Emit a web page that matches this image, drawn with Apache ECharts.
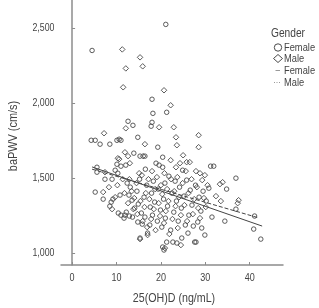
<!DOCTYPE html>
<html>
<head>
    <meta charset="UTF-8">
    <title>baPWV vs 25(OH)D</title>
    <script src="https://cdn.jsdelivr.net/npm/echarts@6/dist/echarts.min.js"></script>
    <style>
        body { margin: 0; background: #fff; }
    </style>
</head>
<body>
    <div id="chart" style="width:319px; height:308px;"></div>

    <script>
        // tick labels
        var xTicks = [0, 10, 20, 30, 40];
        var yTicks = [1000, 1500, 2000, 2500];
        var legendItems = ['Female', 'Male', 'Female', 'Male'];

        // scatter points [25(OH)D, baPWV]
        var femalePts = [
            [4.5,2353],[18.0,2027],[18.2,1933],[21.1,2527],[21.3,1940],
            [4.3,1753],[5.2,1753],[6.3,1727],[8.5,1727],[10.1,1753],[11.0,1753],[12.6,1880],[13.7,1853],
            [14.8,1773],[17.8,1847],[18.0,1873],[19.3,1707],[13.9,1667],[15.3,1647],[16.4,1647],[20.4,1640],
            [31.2,1580],[31.9,1580],[36.9,1500],[34.8,1427],[30.8,1433],[36.9,1293],[41.1,1247],[34.4,1213],
            [31.5,1240],[40.9,1160],[42.5,1093],[29.9,1120],[27.9,1073],[20.7,1020],
            [5.6,1573],[5.6,1540],[5.2,1407],[7.0,1360],[8.5,1313],[8.8,1340],[9.2,1360],[10.8,1387],
            [9.7,1553],[10.1,1593],[11.0,1580],[12.1,1587],[10.3,1533],[7.4,1493],[9.0,1493],[11.9,1253],[10.6,1760],
            [12.4,1467],[13.1,1440],[12.8,1387],[13.5,1353],[14.1,1300],[12.2,1273],[11.0,1253],[10.4,1267],
            [12.9,1247],[13.6,1240],[11.7,1233],[14.6,1413],[15.2,1493],[14.9,1327],[15.6,1267],[14.8,1207],
            [15.3,1100],[16.4,1240],[15.8,1193],[16.2,1373],[16.8,1453],[16.5,1560],[17.0,1133],
            [17.5,1187],[17.6,1307],[17.9,1400],[18.3,1480],[18.1,1253],[18.6,1340],[18.9,1600],[19.2,1213],
            [19.4,1427],[19.6,1587],[19.9,1287],[20.2,1173],[20.4,1573],[20.4,1040],[20.6,1360],[20.9,1467],
            [21.3,1073],[21.0,1233],[21.5,1313],[21.8,1513],
            [22.2,1153],[22.5,1400],[22.7,1073],[22.9,1273],[23.2,1480],[23.6,1067],[23.5,1347],[23.9,1213],
            [24.2,1440],[24.7,1100],[24.6,1300],[24.9,1553],[25.2,1380],[25.5,1187],[25.8,1487],[26.1,1133],
            [26.3,1253],[26.6,1420],
            [27.0,1320],[27.3,1180],[27.6,1073],[27.8,1453],[28.3,1207],[28.6,1373],[29.2,1167],[29.0,1280],
            [29.5,1413],[30.2,1347]
        ];
        var malePts = [
            [11.3,2360],[12.1,2233],[11.5,2107],[15.3,2307],[15.9,2247],[7.2,1800],[12.1,1833],[16.4,1727],
            [19.6,1840],[11.9,1673],[10.3,1633],[20.7,2087],[22.2,1987],[22.9,1840],[23.4,1773],[28.5,1787],
            [23.6,1720],[28.5,1707],
            [28.8,1533],[33.3,1460],[33.9,1473],[32.4,1380],[33.5,1347],[37.5,1353],[37.3,1333],[20.9,1033],[24.5,1053],
            [8.3,1440],[9.7,1373],[15.3,1093],[17.0,1120],
            [7.4,1540],[7.0,1407],[10.6,1627],[12.6,1647],[11.4,1493],[10.2,1453],[11.8,1400],[9.0,1293],
            [12.6,1333],[13.0,1600],[12.9,1493],[13.4,1413],[13.8,1293],[14.0,1367],[14.5,1467],[14.7,1260],
            [15.1,1533],[15.4,1347],[15.7,1520],[15.9,1213],[16.0,1647],[16.3,1307],[16.6,1400],[16.9,1173],[17.2,1493],
            [17.4,1360],[17.8,1227],[18.0,1547],[18.4,1293],[18.7,1427],[18.8,1153],[19.1,1507],[19.5,1333],
            [19.8,1247],[20.0,1453],[20.3,1393],[20.7,1200],[20.8,1533],[21.1,1280],[21.4,1427],[21.7,1347],[21.9,1127],
            [22.2,1620],[22.3,1493],[22.6,1227],[23.0,1413],[23.3,1313],[23.4,1573],[23.7,1507],[23.8,1167],
            [24.1,1373],[24.3,1600],[24.5,1253],[24.9,1467],[25.0,1653],[25.3,1320],[25.6,1547],[25.8,1607],
            [25.9,1213],[26.2,1400],[26.5,1607],
            [26.9,1493],[27.2,1260],[27.5,1360],[27.9,1547],[28.1,1440],[28.4,1300],[28.8,1233],[29.3,1487],
            [29.7,1367],[30.1,1307],[30.5,1453],[29.9,1520]
        ];

        // fitted lines (end points)
        var femaleFit = [[4.5,1575],[42.8,1180]];
        var maleFit = [[4.5,1560],[42.0,1235]];

        var X_MIN = -2.5, X_MAX = 47.5, Y_MIN = 920, Y_MAX = 2690;

        var FONT = '"Liberation Sans", Arial, sans-serif';
        var AXIS = '#8c8c8c';
        var INK = '#4a4a4a';
        var TXT = '#444';

        // the reference uses a condensed face, so squeeze regular text horizontally
        function label(txt, x, y, size, squeeze, opts) {
            opts = opts || {};
            return {
                type: 'text', x: x, y: y, scaleX: squeeze, rotation: opts.rotation || 0,
                silent: true,
                style: {
                    text: txt, fill: TXT, font: size + 'px ' + FONT,
                    align: opts.align || 'left', verticalAlign: 'middle'
                }
            };
        }

        // legend drawn by hand: symbols + names
        var lx = 278, ly = [47.5, 58.5, 70.5, 82.5];
        var graphics = [
            label('Gender', 271, 34, 12, 0.85),
            { type: 'circle', shape: { cx: lx, cy: ly[0], r: 3.7 },
              style: { fill: 'none', stroke: INK, lineWidth: 1 } },
            { type: 'polygon', shape: { points: [[lx, ly[1] - 4], [lx + 4.5, ly[1]], [lx, ly[1] + 4], [lx - 4.5, ly[1]]] },
              style: { fill: 'none', stroke: INK, lineWidth: 1 } },
            { type: 'line', shape: { x1: lx - 2.5, y1: ly[2], x2: lx + 2, y2: ly[2] },
              style: { stroke: '#999', lineWidth: 1 } },
            { type: 'line', shape: { x1: lx - 4, y1: ly[3], x2: lx + 2, y2: ly[3] },
              style: { stroke: '#999', lineWidth: 1, lineDash: [1, 1.5] } }
        ];
        legendItems.forEach(function (name, i) {
            graphics.push(label(name, 284, ly[i], 11.5, 0.81));
        });
        // axis titles
        graphics.push(label('25(OH)D (ng/mL)', 174, 298, 13, 0.82, { align: 'center' }));
        graphics.push(label('baPWV (cm/s)', 13, 136, 13, 0.84, { align: 'center', rotation: Math.PI / 2 }));

        var chart = echarts.init(document.getElementById('chart'), null, {renderer: 'canvas'});

        chart.setOption({
            animation: false,
            backgroundColor: '#fff',
            textStyle: { fontFamily: FONT },
            graphic: graphics,
            grid: { left: 61, right: 36, top: 0, bottom: 43, containLabel: false, outerBoundsMode: 'none' },
            xAxis: {
                type: 'value',
                min: X_MIN, max: X_MAX,
                splitLine: { show: false },
                axisLine: { lineStyle: { color: AXIS, width: 1.5 } },
                axisTick: { customValues: xTicks, inside: true, length: 3, lineStyle: { color: AXIS } },
                axisLabel: { show: false }
            },
            yAxis: {
                type: 'value',
                min: Y_MIN, max: Y_MAX,
                splitLine: { show: false },
                axisLine: { show: true, lineStyle: { color: AXIS, width: 1.5 } },
                axisTick: { show: true, customValues: yTicks, inside: true, length: 3, lineStyle: { color: AXIS } },
                axisLabel: { show: false }
            },
            series: [
                {
                    name: 'Female', type: 'scatter', data: femalePts,
                    symbol: 'circle', symbolSize: 4.5,
                    itemStyle: { color: 'rgba(255,255,255,0)', borderColor: INK, borderWidth: 0.9, opacity: 1 }
                },
                {
                    name: 'Male', type: 'scatter', data: malePts,
                    symbol: 'diamond', symbolSize: 5.5,
                    itemStyle: { color: 'rgba(255,255,255,0)', borderColor: INK, borderWidth: 0.9, opacity: 1 }
                },
                {
                    name: 'Female fit', type: 'line', data: femaleFit,
                    symbol: 'none', color: '#555',
                    lineStyle: { color: '#444', width: 1 }
                },
                {
                    name: 'Male fit', type: 'line', data: maleFit,
                    symbol: 'none', color: '#555',
                    lineStyle: { color: '#444', width: 1, type: [4, 2] }
                }
            ]
        });

        // tick labels, placed through the axes' own scales
        xTicks.forEach(function (v) {
            var p = chart.convertToPixel({ gridIndex: 0 }, [v, Y_MIN]);
            graphics.push(label(String(v), p[0], p[1] + 13, 11, 0.82, { align: 'center' }));
        });
        yTicks.forEach(function (v) {
            var p = chart.convertToPixel({ gridIndex: 0 }, [X_MIN, v]);
            graphics.push(label(v.toLocaleString('en-US'), p[0] - 6.5, p[1], 11, 0.8, { align: 'right' }));
        });
        chart.setOption({ graphic: graphics }, { replaceMerge: ['graphic'] });
    </script>
</body>
</html>
